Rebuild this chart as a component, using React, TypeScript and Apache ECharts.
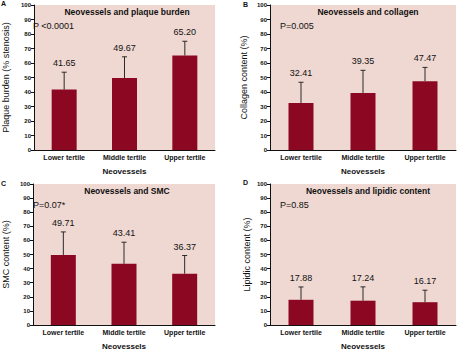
import React, { useEffect, useRef } from "react";
import * as echarts from "echarts";

const categories = ["Lower tertile", "Middle tertile", "Upper tertile"];
const plaqueMeans = [41.65, 49.67, 65.2];
const plaqueSD = [12.0, 14.6, 9.8];
const collagenMeans = [32.41, 39.35, 47.47];
const collagenSD = [14.3, 15.6, 9.5];
const smcMeans = [49.71, 43.41, 36.37];
const smcSD = [16.3, 15.3, 12.9];
const lipidMeans = [17.88, 17.24, 16.17];
const lipidSD = [9.1, 9.8, 8.5];
const panelTitles = [
  "Neovessels and plaque burden",
  "Neovessels and collagen",
  "Neovessels and SMC",
  "Neovessels and lipidic content",
];
const pTexts = ["P <0.0001", "P=0.005", "P=0.07*", "P=0.85"];
const yNames = [
  "Plaque burden (% stenosis)",
  "Collagen content (%)",
  "SMC content (%)",
  "Lipidic content (%)",
];
const panelLetters = ["A", "B", "C", "D"];
const xName = "Neovessels";

const NARROW = "'Liberation Sans Narrow', 'Liberation Sans', Arial, sans-serif";
const SANS = "'Liberation Sans', Arial, sans-serif";
const BAR = "#8c0822";
const PINK = "#efd8d2";

export default function App() {
  const ref = useRef<HTMLDivElement>(null);
  useEffect(() => {
    if (!ref.current) return;
    const chart = echarts.init(ref.current, null, { renderer: "svg" });
    const grids = [
      { left: 29, top: 5, width: 186, height: 145 },
      { left: 270, top: 5, width: 186, height: 145 },
      { left: 29, top: 184, width: 186, height: 145 },
      { left: 270, top: 184, width: 186, height: 145 },
    ];
    const yGaps = [24, 22, 23, 19];
    const letterPos = [
      [1, 0],
      [243, 1],
      [1, 180],
      [243, 179],
    ];
    const means = [plaqueMeans, collagenMeans, smcMeans, lipidMeans];
    const sds = [plaqueSD, collagenSD, smcSD, lipidSD];

    const series: any[] = [];
    means.forEach((m, i) => {
      series.push({
        type: "bar",
        xAxisIndex: i,
        yAxisIndex: i,
        data: m,
        barWidth: 25,
        itemStyle: { color: BAR },
        z: 2,
      });
      series.push({
        type: "custom",
        xAxisIndex: i,
        yAxisIndex: i,
        clip: false,
        z: 3,
        data: m.map((v, j) => [j, v, v + sds[i][j]]),
        renderItem: (params: any, api: any) => {
          const x = api.value(0);
          const mean = api.value(1);
          const top = api.value(2);
          const p0 = api.coord([x, mean]);
          const p1 = api.coord([x, top]);
          return {
            type: "group",
            children: [
              {
                type: "line",
                shape: { x1: p0[0], y1: p0[1], x2: p1[0], y2: p1[1] },
                style: { stroke: "#2a2a2a", lineWidth: 1 },
              },
              {
                type: "line",
                shape: { x1: p1[0] - 2.5, y1: p1[1], x2: p1[0] + 2.5, y2: p1[1] },
                style: { stroke: "#2a2a2a", lineWidth: 1 },
              },
              {
                type: "text",
                x: p1[0],
                y: p1[1] - 9,
                style: {
                  text: mean.toFixed(2),
                  fill: "#111",
                  font: `9px ${SANS}`,
                  align: "center",
                  verticalAlign: "middle",
                },
              },
            ],
          };
        },
      });
    });

    const graphic: any[] = [];
    grids.forEach((g, i) => {
      graphic.push({
        type: "text",
        x: g.left + g.width / 2 + 5,
        y: g.top + 7,
        style: {
          text: panelTitles[i],
          fill: "#111",
          font: `bold 8.5px ${NARROW}`,
          align: "center",
          verticalAlign: "middle",
        },
      });
      graphic.push({
        type: "text",
        x: g.left + (i % 2 === 0 ? 4 : 10),
        y: g.top + 21,
        style: {
          text: pTexts[i],
          fill: "#111",
          font: `9px ${SANS}`,
          align: "left",
          verticalAlign: "middle",
        },
      });
      graphic.push({
        type: "text",
        x: letterPos[i][0],
        y: letterPos[i][1],
        style: {
          text: panelLetters[i],
          fill: "#111",
          font: `bold 7px ${NARROW}`,
          align: "left",
          verticalAlign: "top",
        },
      });
    });

    chart.setOption({
      animation: false,
      grid: grids.map((g) => ({
        ...g,
        show: true,
        backgroundColor: PINK,
        borderWidth: 0,
      })),
      xAxis: grids.map((_, i) => ({
        type: "category",
        gridIndex: i,
        data: categories,
        axisTick: { show: false },
        axisLine: { lineStyle: { color: "#111", width: 1 } },
        axisLabel: {
          color: "#111",
          fontFamily: NARROW,
          fontWeight: "bold",
          fontSize: 7,
          margin: 4,
        },
        name: xName,
        nameLocation: "middle",
        nameGap: 17,
        nameTextStyle: {
          color: "#111",
          fontFamily: NARROW,
          fontWeight: "bold",
          fontSize: 8,
        },
      })),
      yAxis: grids.map((_, i) => ({
        type: "value",
        gridIndex: i,
        min: 0,
        max: 100,
        interval: 10,
        splitLine: { show: false },
        axisLine: { show: true, lineStyle: { color: "#111", width: 1 } },
        axisTick: { show: true, length: 3, lineStyle: { color: "#111" } },
        axisLabel: {
          color: "#111",
          fontFamily: NARROW,
          fontWeight: "bold",
          fontSize: 6,
          margin: 3,
        },
        name: yNames[i],
        nameLocation: "middle",
        nameGap: yGaps[i],
        nameTextStyle: {
          color: "#111",
          fontFamily: NARROW,
          fontSize: 9,
        },
      })),
      series,
      graphic,
    });
    return () => chart.dispose();
  }, []);
  return (
    <div
      ref={ref}
      style={{ position: "fixed", left: 0, top: 0, width: 457, height: 351, background: "#fff" }}
    />
  );
}
